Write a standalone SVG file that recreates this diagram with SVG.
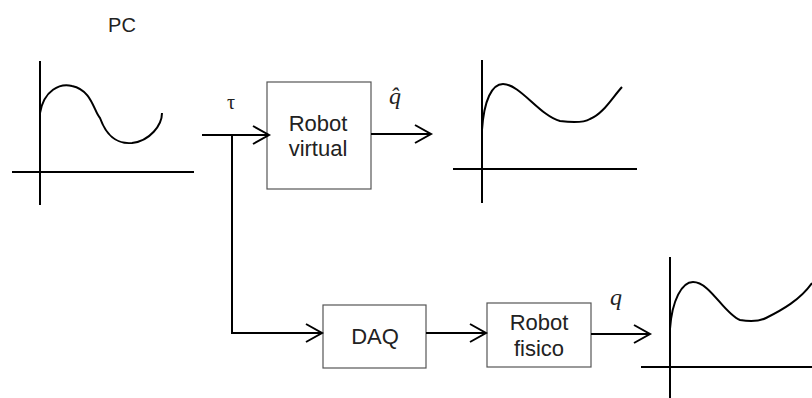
<svg xmlns="http://www.w3.org/2000/svg" width="812" height="398" viewBox="0 0 812 398">
<defs>
<marker id="arr" markerWidth="20" markerHeight="24" refX="17" refY="10" orient="auto" markerUnits="userSpaceOnUse">
<path d="M1,1 L17,10 L1,19" fill="none" stroke="#000" stroke-width="2"/>
</marker>
<style>
.box{fill:#fff;stroke:#555;stroke-width:1.2}
.t{font-family:"Liberation Sans",Arial,sans-serif;font-size:22px;fill:#222;text-anchor:middle}
.ln{fill:none;stroke:#000;stroke-width:2}
.sym{font-family:"Liberation Serif","Times New Roman",serif;font-size:24px;fill:#222}
</style>
</defs>
<rect width="812" height="398" fill="#fff"/>
<text class="t" x="122" y="32" style="font-size:20px">PC</text>
<g id="graph1">
<path class="ln" d="M40,61 V205 M12,172 H194"/>
<path class="ln" d="M40,113 C44,90 60,83 72,86 C92,90 94,112 100,118 C108,140 120,144 132,143 C150,141 162,125 162,113"/>
</g>
<g id="graph2">
<path class="ln" d="M482,60 V203 M453,169 H637"/>
<path class="ln" d="M482,130 C484,100 492,84 503,84 C520,84 540,116 560,121 C575,123 585,122 590,119 C603,114 612,98 622,87"/>
</g>
<g id="graph3">
<path class="ln" d="M670,257 V398 M641,367 H812"/>
<path class="ln" d="M670,329 C672,300 682,282 693,282 C710,282 724,314 740,320 C752,322 760,321 766,318 C782,310 800,300 812,283"/>
</g>
<g id="robot_virtual">
<rect class="box" x="267" y="82" width="104" height="107"/>
<text class="t" x="318" y="131">Robot</text>
<text class="t" x="318" y="156">virtual</text>
</g>
<g id="daq">
<rect class="box" x="323" y="305" width="103" height="63"/>
<text class="t" x="375" y="344">DAQ</text>
</g>
<g id="robot_fisico">
<rect class="box" x="487" y="303" width="104" height="64"/>
<text class="t" x="539" y="330">Robot</text>
<text class="t" x="539" y="356">fisico</text>
</g>
<g id="connectors">
<path class="ln" d="M202,135 H269" marker-end="url(#arr)"/>
<path class="ln" d="M232,135 V333 H322" marker-end="url(#arr)"/>
<path class="ln" d="M371,134 H431" marker-end="url(#arr)"/>
<path class="ln" d="M426,333 H486" marker-end="url(#arr)"/>
<path class="ln" d="M591,334 H650" marker-end="url(#arr)"/>
</g>
<text class="sym" x="227" y="109" style="font-size:20px">τ</text>
<text class="sym" x="389" y="104" font-style="italic">q̂</text>
<text class="sym" x="610" y="305" font-style="italic">q</text>
</svg>
